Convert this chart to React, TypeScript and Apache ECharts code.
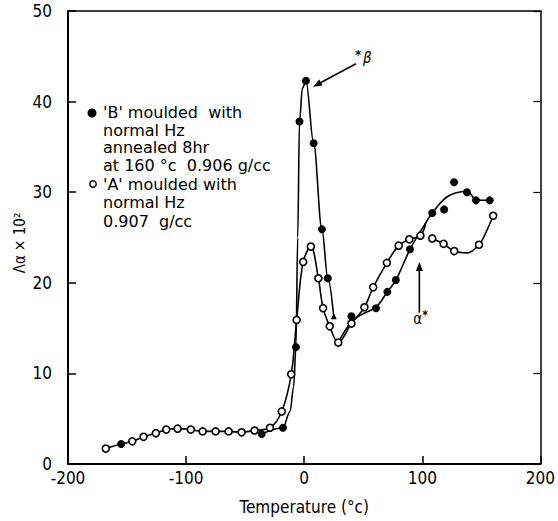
import React, { useEffect, useRef } from "react";
import * as echarts from "echarts";

// Open circles: sample 'A' (moulded with normal Hz, 0.907 g/cc)
const aTemps = [-168, -145.6, -136, -125.6, -116.8, -107.2, -96, -86, -75, -64, -53, -42, -29, -19, -11, -6.4, -0.9, 5.6, 12, 16, 21.6, 28.8, 40, 51, 58.4, 70, 80, 89, 98.4, 108.4, 118, 127, 148, 160];
const aValues = [1.7, 2.5, 3.0, 3.4, 3.8, 3.9, 3.8, 3.6, 3.6, 3.6, 3.5, 3.7, 4.0, 5.8, 9.9, 15.9, 22.3, 24.0, 20.5, 17.2, 15.2, 13.4, 15.5, 17.3, 19.5, 22.2, 24.1, 24.8, 25.2, 24.9, 24.3, 23.5, 24.2, 27.4];

// Filled circles: sample 'B' (annealed 8 hr at 160 °C, 0.906 g/cc)
const bTemps = [-155, -36, -18, -7, -4, 1.5, 8, 15, 20, 40, 60.8, 70.4, 77.6, 89.6, 108.4, 118.5, 126.9, 137.8, 145.4, 157.1];
const bValues = [2.2, 3.3, 4.0, 12.9, 37.8, 42.3, 35.4, 25.9, 20.5, 16.3, 17.2, 19.0, 20.3, 23.7, 27.7, 28.1, 31.1, 30.0, 29.1, 29.1];

// Drawn (fitted) curves
const curveA1Temps = [-168, -155, -145.6, -136, -125.6, -116.8, -107.2, -96, -86, -75, -64, -53, -42, -29, -19, -11, -6.4, -0.9, 5.6, 12, 16, 21.6, 28.8, 40, 51, 58.4, 70, 80, 89, 98.4, 103];
const curveA1Values = [1.7, 2.2, 2.5, 3.0, 3.4, 3.8, 3.9, 3.8, 3.6, 3.6, 3.6, 3.5, 3.7, 4.0, 5.8, 9.9, 15.9, 22.3, 24.0, 20.5, 17.2, 15.2, 13.4, 15.5, 17.3, 19.5, 22.2, 24.1, 24.8, 25.2, 26.6];
const curveA2Temps = [108.4, 118, 127, 138, 148, 154, 160];
const curveA2Values = [24.9, 24.3, 23.5, 23.3, 24.2, 25.6, 27.4];
const curveB1Temps = [-36, -18, -12, -9, -7, -5.5, -4, -1.5, 1.5, 8, 15, 20, 25];
const curveB1Values = [3.3, 4.0, 5.8, 8.5, 12.9, 25, 37.8, 41.5, 42.3, 35.4, 25.9, 20.5, 16.3];
const curveB2Temps = [28.8, 40, 50, 60.8, 70.4, 77.6, 89.6, 100, 108.4, 119, 128, 137.8, 145.4, 157.1];
const curveB2Values = [13.4, 15.7, 16.6, 17.3, 19.0, 20.3, 23.7, 26.0, 27.7, 29.3, 29.9, 30.1, 29.2, 29.1];

const legendLinesB = ["'B' moulded  with", "normal Hz", "annealed 8hr", "at 160 °c  0.906 g/cc"];
const legendLinesA = ["'A' moulded with", "normal Hz", "0.907  g/cc"];

const FONT = "'DejaVu Sans Condensed', 'DejaVu Sans', sans-serif";
const LFONT = "'DejaVu Sans', sans-serif";
const zip = (t: number[], v: number[]) => t.map((x, i) => [x, v[i]]);

function arrow(x1: number, y1: number, x2: number, y2: number) {
  const ang = Math.atan2(y2 - y1, x2 - x1);
  const L = 9, W = 3.5;
  const bx = x2 - L * Math.cos(ang), by = y2 - L * Math.sin(ang);
  const px = -Math.sin(ang) * W, py = Math.cos(ang) * W;
  return [
    { type: "line", shape: { x1, y1, x2: bx, y2: by }, style: { stroke: "#000", lineWidth: 1.6 }, silent: true },
    { type: "polygon", shape: { points: [[x2, y2], [bx + px, by + py], [bx - px, by - py]] }, style: { fill: "#000" }, silent: true },
  ];
}

export default function App() {
  const ref = useRef<HTMLDivElement>(null);
  useEffect(() => {
    if (!ref.current) return;
    document.body.style.margin = "0";
    const chart = echarts.init(ref.current, undefined, { renderer: "svg" });
    const lineBase = { type: "line", smooth: 0.35, showSymbol: false, symbol: "none", lineStyle: { color: "#000", width: 1.6 }, z: 2 };
    chart.setOption({
      animation: false,
      backgroundColor: "#fff",
      grid: { left: 68, right: 12, top: 11, bottom: 57 },
      xAxis: [
        {
          type: "value", min: -200, max: 200, interval: 100,
          name: "Temperature (°c)", nameLocation: "middle", nameGap: 34,
          nameTextStyle: { fontSize: 17, color: "#000", fontFamily: FONT },
          axisLine: { show: true, onZero: false, lineStyle: { color: "#000", width: 2 } },
          axisTick: { show: true, inside: true, length: 8, lineStyle: { color: "#000", width: 1.5 } },
          axisLabel: { fontSize: 17, color: "#000", fontFamily: FONT, margin: 5 },
          splitLine: { show: false },
        },
        {
          type: "value", min: -200, max: 200, position: "top",
          axisLine: { show: true, onZero: false, lineStyle: { color: "#000", width: 1.5 } },
          axisTick: { show: false }, axisLabel: { show: false }, splitLine: { show: false },
        },
      ],
      yAxis: [
        {
          type: "value", min: 0, max: 50, interval: 10,
          axisLine: { show: true, onZero: false, lineStyle: { color: "#000", width: 2 } },
          axisTick: { show: true, inside: true, length: 8, lineStyle: { color: "#000", width: 1.5 } },
          axisLabel: { fontSize: 17, color: "#000", fontFamily: FONT, margin: 16 },
          splitLine: { show: false },
        },
        {
          type: "value", min: 0, max: 50, interval: 10, position: "right",
          axisLine: { show: true, onZero: false, lineStyle: { color: "#000", width: 1.5 } },
          axisTick: { show: true, inside: true, length: 7, lineStyle: { color: "#000", width: 1.2 } },
          axisLabel: { show: false }, splitLine: { show: false },
        },
      ],
      series: [
        { ...lineBase, data: zip(curveA1Temps, curveA1Values) },
        { ...lineBase, data: zip(curveA2Temps, curveA2Values) },
        { ...lineBase, smoothMonotone: "x", data: zip(curveB1Temps, curveB1Values) },
        { ...lineBase, data: zip(curveB2Temps, curveB2Values) },
        {
          type: "scatter", symbol: "circle", symbolSize: 7, z: 3,
          itemStyle: { color: "#fff", borderColor: "#000", borderWidth: 1.6, opacity: 1 },
          data: zip(aTemps, aValues),
        },
        {
          type: "scatter", symbol: "circle", symbolSize: 8, z: 4,
          itemStyle: { color: "#000", opacity: 1 },
          data: zip(bTemps, bValues),
        },
        {
          type: "scatter", symbol: "triangle", symbolSize: 6, z: 4,
          itemStyle: { color: "#000", opacity: 1 },
          data: [[curveB1Temps[curveB1Temps.length - 1], curveB1Values[curveB1Values.length - 1]]],
        },
      ],
    });

    const peakIdx = bValues.indexOf(Math.max(...bValues));
    const peak = chart.convertToPixel({ gridIndex: 0 }, [bTemps[peakIdx], bValues[peakIdx]]) as number[];
    const aTop = chart.convertToPixel({ gridIndex: 0 }, [97.5, 22.3]) as number[];
    const aBot = chart.convertToPixel({ gridIndex: 0 }, [97.5, 16.7]) as number[];

    const graphics: any[] = [
      ...arrow(peak[0] + 50, peak[1] - 17, peak[0] + 7, peak[1] + 6),
      { type: "text", x: peak[0] + 49, y: peak[1] - 33, style: { text: "*", font: `bold 13px ${FONT}`, fill: "#000" } },
      { type: "text", x: peak[0] + 57, y: peak[1] - 30, style: { text: "β", font: `italic 15px ${FONT}`, fill: "#000" } },
      ...arrow(aBot[0], aBot[1], aTop[0], aTop[1]),
      { type: "text", x: aBot[0] - 6, y: aBot[1] - 1, style: { text: "α", font: `15px ${FONT}`, fill: "#000" } },
      { type: "text", x: aBot[0] + 3, y: aBot[1] - 4, style: { text: "*", font: `bold 12px ${FONT}`, fill: "#000" } },
      { type: "circle", shape: { cx: 92, cy: 113, r: 4.5 }, style: { fill: "#000" } },
      { type: "circle", shape: { cx: 93, cy: 184, r: 3.2 }, style: { fill: "#fff", stroke: "#000", lineWidth: 1.4 } },
      {
        type: "text", x: 103, y: 104,
        style: { text: legendLinesB.join("\n"), font: `16px ${LFONT}`, fill: "#000", lineHeight: 17.5 },
      },
      {
        type: "text", x: 103, y: 175,
        style: { text: legendLinesA.join("\n"), font: `16px ${LFONT}`, fill: "#000", lineHeight: 18.5 },
      },
      {
        type: "text", x: 20, y: 243, rotation: Math.PI / 2,
        style: { text: "Λα × 10²", font: `15px ${FONT}`, fill: "#000", align: "center", verticalAlign: "middle" },
      },
    ];
    chart.setOption({ graphic: graphics });
    return () => chart.dispose();
  }, []);
  return <div ref={ref} style={{ width: 558, height: 521 }} />;
}
